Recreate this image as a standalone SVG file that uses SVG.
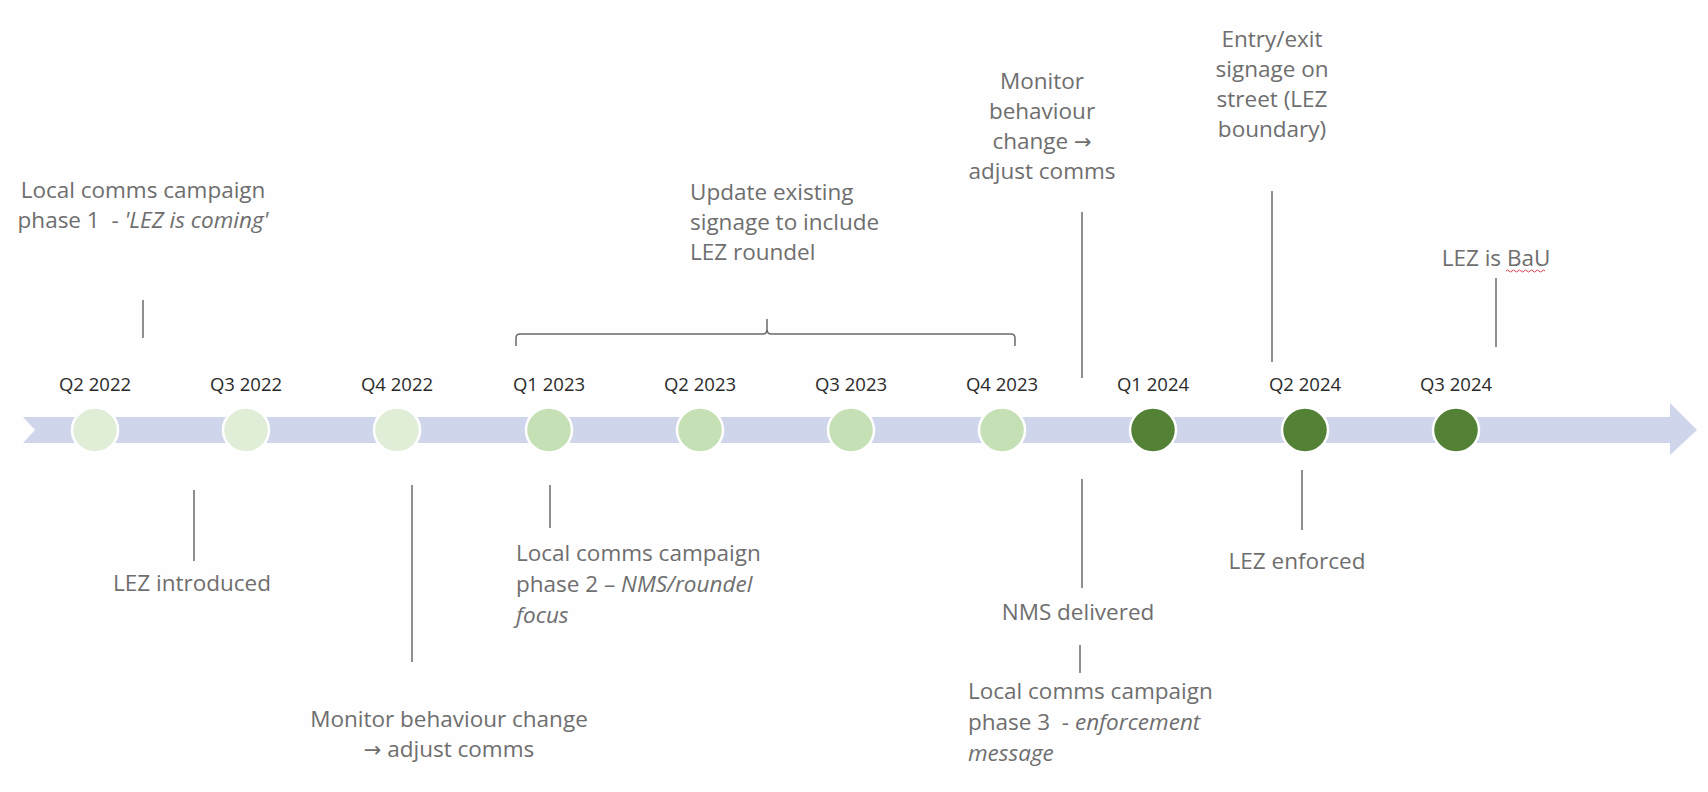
<svg xmlns="http://www.w3.org/2000/svg" width="1708" height="792" viewBox="0 0 1708 792">
<style>
.ann{font-family:"Open Sans","Liberation Sans",sans-serif;font-size:22.5px;fill:#6e6e6e}
.q{font-family:"Open Sans","Liberation Sans",sans-serif;font-size:18.5px;fill:#2a2a2a;text-anchor:middle}
.c{text-anchor:middle}
.it{font-style:italic}
.ar{font-family:"DejaVu Sans",sans-serif;font-size:21px}
.tick{stroke:#6a6a6a;stroke-width:1.5;fill:none}
.n1{fill:#e0eed8;stroke:#ffffff;stroke-width:2.5}
.n2{fill:#c5e0b4;stroke:#ffffff;stroke-width:2.5}
.n3{fill:#538135;stroke:#ffffff;stroke-width:2.5}
</style>
<rect width="1708" height="792" fill="#fefefe"/>
<g id="timeline-band">
<polygon points="23,417 1670,417 1670,403 1697,430 1670,455 1670,443 23,443 35,430" fill="#cfd5ea"/>
</g>
<g id="connectors">
<line class="tick" x1="143" y1="300" x2="143" y2="338"/>
<path class="tick" d="M516,346 L516,338 Q516,334 520,334 L763,334 Q767,334 767,329 L767,319 M767,329 Q767,334 771,334 L1011,334 Q1015,334 1015,338 L1015,346" stroke="#8a8a8a"/>
<line class="tick" x1="1082" y1="212" x2="1082" y2="378"/>
<line class="tick" x1="1272" y1="191" x2="1272" y2="362"/>
<line class="tick" x1="1496" y1="278" x2="1496" y2="347"/>
<line class="tick" x1="194" y1="490" x2="194" y2="561"/>
<line class="tick" x1="412" y1="485" x2="412" y2="662"/>
<line class="tick" x1="550" y1="485" x2="550" y2="528"/>
<line class="tick" x1="1082" y1="479" x2="1082" y2="588"/>
<line class="tick" x1="1080" y1="645" x2="1080" y2="673"/>
<line class="tick" x1="1302" y1="470" x2="1302" y2="530"/>
</g>
<g id="q2-2022"><ellipse class="n1" cx="95" cy="430" rx="23" ry="22.5"/><text class="q" x="95" y="391">Q2 2022</text></g>
<g id="q3-2022"><ellipse class="n1" cx="246" cy="430" rx="23" ry="22.5"/><text class="q" x="246" y="391">Q3 2022</text></g>
<g id="q4-2022"><ellipse class="n1" cx="397" cy="430" rx="23" ry="22.5"/><text class="q" x="397" y="391">Q4 2022</text></g>
<g id="q1-2023"><ellipse class="n2" cx="549" cy="430" rx="23" ry="22.5"/><text class="q" x="549" y="391">Q1 2023</text></g>
<g id="q2-2023"><ellipse class="n2" cx="700" cy="430" rx="23" ry="22.5"/><text class="q" x="700" y="391">Q2 2023</text></g>
<g id="q3-2023"><ellipse class="n2" cx="851" cy="430" rx="23" ry="22.5"/><text class="q" x="851" y="391">Q3 2023</text></g>
<g id="q4-2023"><ellipse class="n2" cx="1002" cy="430" rx="23" ry="22.5"/><text class="q" x="1002" y="391">Q4 2023</text></g>
<g id="q1-2024"><ellipse class="n3" cx="1153" cy="430" rx="23" ry="22.5"/><text class="q" x="1153" y="391">Q1 2024</text></g>
<g id="q2-2024"><ellipse class="n3" cx="1305" cy="430" rx="23" ry="22.5"/><text class="q" x="1305" y="391">Q2 2024</text></g>
<g id="q3-2024"><ellipse class="n3" cx="1456" cy="430" rx="23" ry="22.5"/><text class="q" x="1456" y="391">Q3 2024</text></g>
<g id="ann-phase1">
<text class="ann c" x="143" y="198"><tspan x="143">Local comms campaign</tspan><tspan x="143" dy="30">phase 1 &#160;- <tspan class="it">'LEZ is coming'</tspan></tspan></text>
</g>
<g id="ann-signage">
<text class="ann" x="690" y="200"><tspan x="690">Update existing</tspan><tspan x="690" dy="30">signage to include</tspan><tspan x="690" dy="30">LEZ roundel</tspan></text>
</g>
<g id="ann-monitor-top">
<text class="ann c" x="1042" y="89"><tspan x="1042">Monitor</tspan><tspan x="1042" dy="30">behaviour</tspan><tspan x="1042" dy="30">change <tspan class="ar">→</tspan></tspan><tspan x="1042" dy="30">adjust comms</tspan></text>
</g>
<g id="ann-entry">
<text class="ann c" x="1272" y="47"><tspan x="1272">Entry/exit</tspan><tspan x="1272" dy="30">signage on</tspan><tspan x="1272" dy="30">street (LEZ</tspan><tspan x="1272" dy="30">boundary)</tspan></text>
</g>
<g id="ann-bau">
<text class="ann c" x="1496" y="266">LEZ is BaU</text>
<path d="M1506,271 q1.5,-2 3,0 t3,0 t3,0 t3,0 t3,0 t3,0 t3,0 t3,0 t3,0 t3,0 t3,0 t3,0 t3,0" stroke="#e04050" stroke-width="1" fill="none"/>
</g>
<g id="ann-introduced">
<text class="ann c" x="192" y="591">LEZ introduced</text>
</g>
<g id="ann-monitor-bottom">
<text class="ann c" x="449" y="727"><tspan x="449">Monitor behaviour change</tspan><tspan x="449" dy="30"><tspan class="ar">→</tspan> adjust comms</tspan></text>
</g>
<g id="ann-phase2">
<text class="ann" x="516" y="561"><tspan x="516">Local comms campaign</tspan><tspan x="516" dy="31">phase 2 – <tspan class="it">NMS/roundel</tspan></tspan><tspan x="516" dy="31" class="it">focus</tspan></text>
</g>
<g id="ann-nms">
<text class="ann c" x="1078" y="620">NMS delivered</text>
</g>
<g id="ann-phase3">
<text class="ann" x="968" y="699"><tspan x="968">Local comms campaign</tspan><tspan x="968" dy="31">phase 3 &#160;- <tspan class="it">enforcement</tspan></tspan><tspan x="968" dy="31" class="it">message</tspan></text>
</g>
<g id="ann-enforced">
<text class="ann c" x="1297" y="569">LEZ enforced</text>
</g>
</svg>
